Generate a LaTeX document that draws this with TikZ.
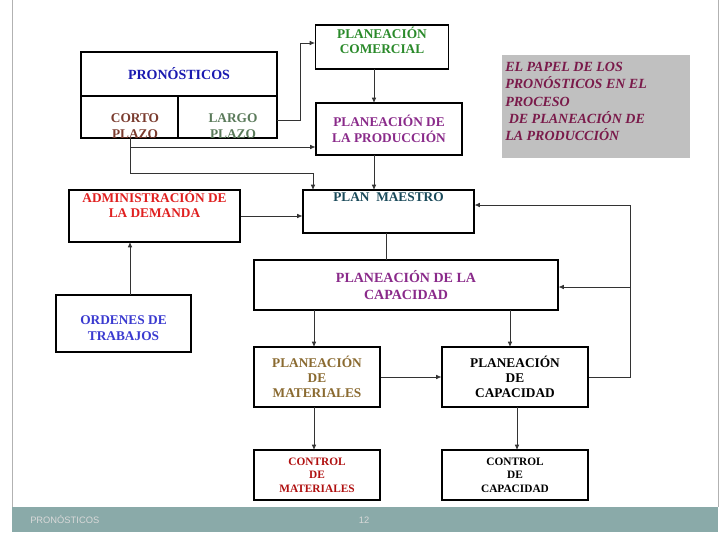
\documentclass[tikz,border=0pt]{standalone}
\usepackage{fontspec}
\setmainfont{Liberation Serif}
\newfontfamily\footfont{Liberation Sans}
\usetikzlibrary{arrows.meta}
\definecolor{cblue}{HTML}{1A1AB0}
\definecolor{cbrown}{HTML}{7A3B2E}
\definecolor{cgreyg}{HTML}{5A7A5A}
\definecolor{cgreen}{HTML}{2A8A2A}
\definecolor{cpurple}{HTML}{8A2A8A}
\definecolor{cteal}{HTML}{1A4A5A}
\definecolor{cred}{HTML}{E02020}
\definecolor{cblue2}{HTML}{3A3AD0}
\definecolor{colive}{HTML}{8A6A30}
\definecolor{cdred}{HTML}{B01010}
\definecolor{cmag}{HTML}{7A1A4A}
\definecolor{footc}{HTML}{8AAAA9}
\definecolor{boxg}{HTML}{C0C0C0}
\begin{document}
\begin{tikzpicture}[x=0.75pt,y=-0.75pt,
  bx/.style={draw=black,line width=0.8pt},
  tx/.style={font=\fontsize{10}{11.5}\selectfont\bfseries,align=center,inner sep=0pt},
  ar/.style={draw=black!80,line width=0.6pt,-{Latex[length=4pt,width=3.5pt]}},
  ln/.style={draw=black!80,line width=0.6pt}]
\useasboundingbox (0,0) rectangle (728,546);
\fill[white] (0,0) rectangle (728,546);
\draw[black!30,line width=0.6pt] (12,0) -- (12,507);
\draw[black!30,line width=0.6pt] (718,0) -- (718,507);
\fill[footc] (12,507) rectangle (718,532);
\node[font=\footfont\fontsize{7}{8}\selectfont,text=white!85!black,anchor=west,inner sep=0pt] (ft) at (30,519) {PRONÓSTICOS};
\node[font=\footfont\fontsize{7}{8}\selectfont,text=white!85!black,inner sep=0pt] (pg) at (364,520) {12};
% boxes
\draw[bx] (81,52) rectangle (277,138);
\draw[bx] (81,96) -- (277,96);
\draw[bx] (178,96) -- (178,138);
\node[tx,text=cblue,font=\fontsize{10.5}{12}\selectfont\bfseries] (tpron) at (179,74) {PRONÓSTICOS};
\node[tx,text=cbrown] (corto) at (135,126) {CORTO\\PLAZO};
\node[tx,text=cgreyg] (largo) at (233,126) {LARGO\\PLAZO};
\node[bx,tx,text=cgreen,minimum width=133*0.75pt,minimum height=44*0.75pt] (com) at (382,47) {PLANEACIÓN\\COMERCIAL\\[-1pt]\phantom{x}};
\node[bx,tx,text=cpurple,minimum width=146*0.75pt,minimum height=52*0.75pt] (prod) at (389,129) {PLANEACIÓN DE\\LA PRODUCCIÓN};
\node[bx,tx,text=cteal,minimum width=171*0.75pt,minimum height=43*0.75pt,text depth=0pt] (pm) at (388.5,211.5) {PLAN\ \ MAESTRO\\[10pt]};
\node[bx,tx,text=cred,minimum width=171*0.75pt,minimum height=52*0.75pt] (adm) at (154.5,216) {ADMINISTRACIÓN DE\\LA DEMANDA\\[6pt]};
\node[bx,tx,text=cblue2,minimum width=135*0.75pt,minimum height=57*0.75pt] (ord) at (123.5,323.5) {\\[2pt]ORDENES DE\\TRABAJOS};
\node[bx,tx,text=cpurple,font=\fontsize{10.5}{12.5}\selectfont\bfseries,minimum width=304*0.75pt,minimum height=50*0.75pt] (pcap) at (406,285) {PLANEACIÓN DE LA\\CAPACIDAD};
\node[bx,tx,text=colive,minimum width=126*0.75pt,minimum height=60*0.75pt] (pmat) at (317,377) {PLANEACIÓN\\DE\\MATERIALES};
\node[bx,tx,text=black,minimum width=146*0.75pt,minimum height=60*0.75pt] (pcp) at (515,377) {PLANEACIÓN\\DE\\CAPACIDAD};
\node[bx,tx,text=cdred,minimum width=126*0.75pt,minimum height=50*0.75pt,font=\fontsize{8.5}{10}\selectfont\bfseries] (cmat) at (317,475) {CONTROL\\DE\\MATERIALES};
\node[bx,tx,text=black,minimum width=146*0.75pt,minimum height=50*0.75pt,font=\fontsize{8.5}{10}\selectfont\bfseries] (ccap) at (515,475) {CONTROL\\DE\\CAPACIDAD};
\node[fill=boxg,minimum width=188*0.75pt,minimum height=103*0.75pt] (gb) at (596,106.5) {};
\node[text=cmag,font=\fontsize{10.5}{13}\selectfont\bfseries\itshape,align=left,anchor=north west,inner sep=0pt] (gt) at (505,62) {EL PAPEL DE LOS\\PRONÓSTICOS EN EL\\PROCESO\\\ DE PLANEACIÓN DE\\LA PRODUCCIÓN};
% connectors
\draw[ar] (277,120) -- (300,120) -- (300,43) -- (com.west |- 0,43);
\draw[ar] (374,69) -- (374,103);
\draw[ar] (130,138) -- (130,147) -- (prod.west |- 0,147);
\draw[ar] (130,147) -- (130,173) -- (313,173) -- (313,190);
\draw[ar] (374,155) -- (374,190);
\draw[ar] (adm.east) -- (pm.west |- adm.east);
\draw[ar] (130,295) -- (130,242);
\draw[ln] (386,233) -- (386,260);
\draw[ar] (pcp.east) -- (630,377) -- (630,205) -- (pm.east |- 0,205);
\draw[ar] (630,287) -- (pcap.east |- 0,287);
\draw[ar] (314,310) -- (314,347);
\draw[ar] (510,310) -- (510,347);
\draw[ar] (pmat.east) -- (pcp.west);
\draw[ar] (314,407) -- (314,450);
\draw[ar] (517,407) -- (517,450);
\end{tikzpicture}
\end{document}
